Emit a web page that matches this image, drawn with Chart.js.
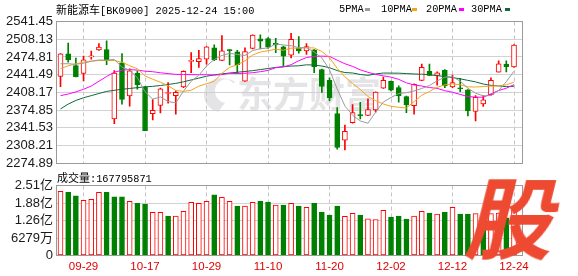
<!DOCTYPE html>
<html>
<head>
<meta charset="utf-8">
<script src="https://cdn.jsdelivr.net/npm/chart.js@4.4.1/dist/chart.umd.min.js"></script>
<style>
  html, body { margin: 0; padding: 0; background: #fff; }
  #wrap { position: relative; width: 578px; height: 276px; overflow: hidden; }
  #kline { position: absolute; left: 0; top: 0; }
  #vol { position: absolute; left: 0; top: 172px; }
  .t { position: absolute; white-space: nowrap; color: #000; line-height: 14px; }
  .cjk { font-family: "Noto Sans CJK SC", sans-serif; font-size: 11px; }
  .asc { font-family: "Liberation Mono", monospace; font-size: 10.3px; }
  .mk { position: absolute; width: 5px; height: 3px; }
  #logo { position: absolute; left: 462px; top: 170px; font: bold 88px/88px "Noto Sans CJK SC", sans-serif;
          color: #ee4a32; transform: skewX(-14deg); transform-origin: bottom left; z-index: 5; }
</style>
</head>
<body>
<div id="wrap">
  <canvas id="kline" width="578" height="174"></canvas>
  <canvas id="vol" width="578" height="104"></canvas>

  <div class="t" style="left:56px;top:2px"><span class="cjk">新能源车</span><span class="asc">[BK0900] 2025-12-24 15:00</span></div>

  <div class="t asc" style="left:339px;top:2px">5PMA</div>
  <div class="mk" style="left:365px;top:8px;background:#9a9a9a"></div>
  <div class="t asc" style="left:381px;top:2px">10PMA</div>
  <div class="mk" style="left:412px;top:8px;background:#f5a31a"></div>
  <div class="t asc" style="left:426px;top:2px">20PMA</div>
  <div class="mk" style="left:459px;top:8px;background:#ff00ff"></div>
  <div class="t asc" style="left:471px;top:2px">30PMA</div>
  <div class="mk" style="left:505px;top:8px;background:#0b6b3a"></div>

  <div class="t" style="left:57px;top:170px"><span class="cjk">成交量</span><span class="asc">:167795871</span></div>

  <div id="logo">股</div>
</div>

<script>
// trading days shown on the chart
const dates = [
  '09-24','09-25','09-26','09-29','09-30',
  '10-09','10-10','10-13','10-14','10-15','10-16','10-17','10-20','10-21','10-22','10-23','10-24','10-27','10-28','10-29','10-30','10-31',
  '11-03','11-04','11-05','11-06','11-07','11-10','11-11','11-12','11-13','11-14','11-17','11-18','11-19','11-20','11-21','11-24','11-25','11-26','11-27','11-28',
  '12-01','12-02','12-03','12-04','12-05','12-08','12-09','12-10','12-11','12-12','12-15','12-16','12-17','12-18','12-19','12-22','12-23','12-24'
];
const labelIdx = [3, 11, 19, 27, 35, 43, 51, 59];

const open = [
  2438, 2480.5, 2458.3, 2443.6, 2475, 2487.8, 2488.4, 2358.3, 2463.9, 2401.3,
  2444.2, 2417.9, 2368.1, 2383.5, 2406, 2401.9, 2418.5, 2466.5, 2465.7, 2470.6,
  2492.1, 2468.2, 2487.5, 2484.5, 2429, 2491, 2509, 2509.5, 2500.5, 2494,
  2478, 2491, 2486, 2488, 2451, 2430.7, 2368.3, 2318, 2351.2, 2366,
  2364.8, 2375, 2416, 2428.9, 2417.2, 2400, 2383.3, 2430.7, 2447.9, 2440,
  2449.8, 2418.5, 2416, 2413, 2372.4, 2386.6, 2403.7, 2446.1, 2461.4, 2455.9
];
const high = [
  2481, 2501, 2472.5, 2476.2, 2486, 2500, 2505, 2449.2, 2481, 2452.2,
  2448, 2419, 2394.5, 2416, 2426.4, 2411.1, 2448.5, 2483, 2487, 2494.5,
  2497.5, 2515, 2488.5, 2487.2, 2492, 2516.5, 2516.5, 2511, 2510, 2495,
  2519, 2513, 2500, 2488.5, 2452, 2435.6, 2379.5, 2346.5, 2385, 2389.3,
  2396, 2409, 2437, 2429.5, 2420.3, 2401, 2424, 2461.4, 2461.4, 2446.7,
  2451, 2440.6, 2434.4, 2413.5, 2401.9, 2401.9, 2435.6, 2467.6, 2467.6, 2498
];
const low = [
  2419, 2465, 2437, 2429.5, 2470.6, 2487, 2460.2, 2349.1, 2385.9, 2382.3,
  2414.2, 2336, 2356.5, 2369.4, 2387.8, 2367, 2417, 2445, 2455, 2461,
  2467.6, 2468, 2460, 2444, 2428.5, 2490, 2490, 2491, 2483, 2457.7,
  2473, 2482, 2479.5, 2445, 2408, 2392.7, 2301.5, 2300, 2350, 2358,
  2364.5, 2371, 2415.5, 2411, 2389.6, 2369.8, 2367, 2430, 2439.5, 2421.5,
  2417.2, 2417.2, 2409.3, 2363.9, 2354.6, 2381.6, 2403, 2446, 2446.7, 2455
];
const close = [
  2480.5, 2469.4, 2437.5, 2469.4, 2476, 2493.4, 2467.6, 2444.2, 2395.1, 2448.6,
  2422.8, 2336.2, 2374.3, 2415, 2407.3, 2408.2, 2447.9, 2467.5, 2471.5, 2494,
  2469, 2486.3, 2486.8, 2460.3, 2484.7, 2515.7, 2504.4, 2493, 2497.5, 2476,
  2508.1, 2486.3, 2494.3, 2456.5, 2419.1, 2397.6, 2304.5, 2334.7, 2370, 2364.5,
  2375.8, 2408.6, 2430.7, 2412.3, 2401.9, 2384.7, 2423.4, 2455.3, 2440, 2444.9,
  2420.3, 2426.4, 2415, 2373.1, 2398.8, 2393.9, 2430.7, 2462, 2456.5, 2497
];

const ma5 = [
  2462, 2462, 2461, 2463, 2466.6, 2469.1, 2468.8, 2470.1, 2455.3, 2449.8,
  2435.7, 2409.4, 2395.4, 2399.4, 2391.1, 2388.2, 2410.5, 2429.0, 2440.3, 2457.6,
  2469.9, 2477.6, 2481.6, 2479.4, 2477.5, 2486.8, 2490.4, 2491.6, 2499.1, 2497.3,
  2495.9, 2492.2, 2492.4, 2484.2, 2472.9, 2450.8, 2414.4, 2382.5, 2365.2, 2354.4,
  2350.0, 2370.8, 2390.0, 2398.5, 2405.9, 2407.6, 2410.6, 2415.5, 2421.1, 2429.7,
  2436.8, 2437.4, 2429.3, 2415.9, 2406.7, 2401.4, 2402.3, 2411.7, 2428.4, 2448.0
];
const ma10 = [
  2453, 2458, 2462, 2465, 2467, 2468, 2468, 2468, 2465, 2458.2,
  2452.4, 2439.1, 2432.8, 2427.3, 2420.5, 2411.9, 2409.9, 2412.2, 2419.8, 2424.4,
  2429.0, 2444.0, 2455.3, 2459.8, 2467.5, 2478.4, 2484.0, 2486.6, 2489.2, 2487.4,
  2491.3, 2491.3, 2492.0, 2491.7, 2485.1, 2473.3, 2453.3, 2437.5, 2424.7, 2413.6,
  2400.4, 2392.6, 2386.3, 2381.8, 2380.1, 2378.8, 2390.7, 2402.8, 2409.8, 2417.8,
  2422.2, 2424.0, 2422.4, 2418.5, 2418.2, 2419.1, 2419.9, 2420.5, 2422.2, 2427.4
];
const ma20 = [
  2402, 2405, 2409, 2414, 2420, 2429, 2438, 2446, 2450, 2451,
  2450, 2448, 2447, 2445, 2443.5, 2442, 2441.8, 2441.5, 2441.3, 2441.3,
  2440.7, 2441.5, 2444.0, 2443.6, 2444.0, 2445.1, 2447.0, 2449.4, 2454.5, 2455.9,
  2460.2, 2467.7, 2473.7, 2475.7, 2476.3, 2475.8, 2468.7, 2462.0, 2457.0, 2450.5,
  2445.9, 2442.0, 2439.2, 2436.8, 2432.6, 2426.1, 2422.0, 2420.1, 2417.2, 2415.7,
  2411.3, 2408.3, 2404.3, 2400.2, 2399.2, 2399.0, 2405.3, 2411.6, 2416.0, 2422.6
];
const ma30 = [
  2377, 2386, 2393, 2398, 2402, 2406, 2410, 2412, 2414, 2415.5,
  2417, 2418.5, 2419.5, 2421, 2423, 2425, 2428, 2431.5, 2435, 2438.5,
  2441, 2443, 2444.5, 2446, 2447.5, 2449, 2451, 2453, 2455, 2456.6,
  2457.6, 2458.1, 2460.0, 2459.6, 2457.7, 2454.5, 2449.1, 2445.4, 2444.6, 2441.8,
  2440.2, 2442.7, 2444.5, 2444.4, 2444.2, 2443.5, 2442.7, 2442.3, 2441.2, 2439.6,
  2438.0, 2436.0, 2433.6, 2430.7, 2427.8, 2423.8, 2421.3, 2420.3, 2418.9, 2419.6
];

// 成交量 (shares)
const volume = [
  230600000, 227000000, 213700000, 198000000, 201600000, 227000000, 227000000, 210100000, 210100000, 194400000,
  187100000, 184700000, 154500000, 154500000, 141300000, 141300000, 158200000, 190800000, 187100000, 194400000,
  217300000, 208900000, 194400000, 177500000, 177500000, 190800000, 195600000, 192000000, 181100000, 181100000,
  187100000, 177500000, 172700000, 187100000, 154500000, 144900000, 177500000, 140100000, 150900000, 144900000,
  131600000, 129200000, 161800000, 137600000, 141300000, 130400000, 141300000, 158200000, 152100000, 148500000,
  154500000, 172700000, 148500000, 148500000, 150000000, 140000000, 150000000, 152000000, 135000000, 167795871
];

const priceTicks = [2274.89, 2308.21, 2341.53, 2374.85, 2408.17, 2441.49, 2474.81, 2508.13, 2541.45];
const volTicks = [0, 62790000, 125580000, 188370000, 251160000];
const volTickLabels = ['0', '6279万', '1.26亿', '1.88亿', '2.51亿'];

const RED = '#ff0000';
const GREEN = '#008000';
const idx = dates.map((d, i) => i);
const candleUp = close.map((c, i) => c >= open[i]);
const volUp = close.map((c, i) => i === 0 || c >= close[i - 1]);

Chart.defaults.font.family = '"Liberation Sans", "Noto Sans CJK SC", sans-serif';

// grey frame round the plot area
const frame = {
  id: 'frame',
  afterDraw(chart) {
    const a = chart.chartArea, ctx = chart.ctx;
    ctx.save();
    ctx.strokeStyle = '#9a9a9a';
    ctx.lineWidth = 1;
    ctx.strokeRect(Math.floor(a.left) + 0.5, Math.floor(a.top) + 0.5,
                   Math.round(a.right - a.left), Math.round(a.bottom - a.top));
    ctx.restore();
  }
};

// faint site watermark behind the candles
const watermark = {
  id: 'watermark',
  beforeDatasetsDraw(chart) {
    const ctx = chart.ctx;
    ctx.save();
    ctx.fillStyle = 'rgba(205,205,212,0.55)';
    ctx.beginPath();
    ctx.arc(221, 95, 17, 0.55 * Math.PI, 1.75 * Math.PI);
    ctx.arc(227, 91, 12, 1.75 * Math.PI, 0.55 * Math.PI, true);
    ctx.closePath();
    ctx.fill();
    ctx.font = 'bold 36px "Noto Sans CJK SC"';
    ctx.textBaseline = 'middle';
    ctx.fillText('东方财富', 237, 94);
    ctx.restore();
  }
};

function xAxis(showLabels) {
  return {
    type: 'linear',
    offset: false,
    min: -0.585,
    max: 60.04,
    afterBuildTicks: s => { s.ticks = labelIdx.map(v => ({ value: v })); },
    afterFit: s => { s.height = showLabels ? 20.5 : 0; },
    grid: { color: '#c4c4c4', drawTicks: false, offset: false },
    border: { display: false, dash: [4, 3] },
    ticks: showLabels
      ? { color: '#e00000', padding: 4, font: { size: 11.5 }, maxRotation: 0, autoSkip: false, callback: v => dates[v] }
      : { display: false }
  };
}

const lineSet = (data, color) => ({
  type: 'line',
  data: data.map((v, i) => ({ x: i, y: v })),
  borderColor: color,
  borderWidth: 1,
  pointRadius: 0,
  order: 0
});

new Chart(document.getElementById('kline'), {
  type: 'bar',
  data: {
    datasets: [
      lineSet(ma5, '#9a9a9a'),
      lineSet(ma10, '#f5a31a'),
      lineSet(ma20, '#ff00ff'),
      lineSet(ma30, '#0b6b3a'),
      {
        data: idx.map(i => ({ x: i, y: [open[i], close[i]] })),
        grouped: false,
        barThickness: 5,
        minBarLength: 1,
        borderWidth: 1,
        borderSkipped: false,
        borderColor: c => candleUp[c.dataIndex] ? RED : GREEN,
        backgroundColor: c => candleUp[c.dataIndex] ? '#ffffff' : GREEN,
        order: 1
      },
      {
        data: idx.map(i => ({ x: i, y: [low[i], high[i]] })),
        grouped: false,
        barThickness: 1,
        backgroundColor: c => candleUp[c.dataIndex] ? RED : GREEN,
        order: 2
      }
    ]
  },
  options: {
    responsive: false,
    animation: false,
    devicePixelRatio: 1,
    layout: { padding: { top: 21.5, right: 56, bottom: 9.5, left: 0 } },
    plugins: { legend: { display: false }, tooltip: { enabled: false } },
    scales: {
      x: xAxis(false),
      y: {
        min: 2274.89,
        max: 2541.45,
        afterBuildTicks: s => { s.ticks = priceTicks.map(v => ({ value: v })); },
        afterFit: s => { s.width = 56; },
        grid: { color: '#d2d2d2', drawTicks: false },
        border: { display: false },
        ticks: { padding: 3, autoSkip: false, color: '#1a1a1a', font: { size: 13 }, callback: v => v.toFixed(2) }
      }
    }
  },
  plugins: [watermark, frame]
});

new Chart(document.getElementById('vol'), {
  type: 'bar',
  data: {
    datasets: [{
      data: idx.map(i => ({ x: i, y: volume[i] })),
      barThickness: 5,
      borderWidth: 1,
      borderSkipped: false,
      borderColor: c => volUp[c.dataIndex] ? RED : GREEN,
      backgroundColor: c => volUp[c.dataIndex] ? '#ffffff' : GREEN
    }]
  },
  options: {
    responsive: false,
    animation: false,
    devicePixelRatio: 1,
    layout: { padding: { top: 13.5, right: 56, bottom: 0, left: 0 } },
    plugins: { legend: { display: false }, tooltip: { enabled: false } },
    scales: {
      x: xAxis(true),
      y: {
        min: 0,
        max: 251160000,
        afterBuildTicks: s => { s.ticks = volTicks.map(v => ({ value: v })); },
        afterFit: s => { s.width = 56; },
        grid: { color: '#d2d2d2', drawTicks: false },
        border: { display: false },
        ticks: { padding: 3, autoSkip: false, color: '#1a1a1a', font: { size: 13 }, callback: (v, i) => volTickLabels[i] }
      }
    }
  },
  plugins: [frame]
});
</script>
</body>
</html>
